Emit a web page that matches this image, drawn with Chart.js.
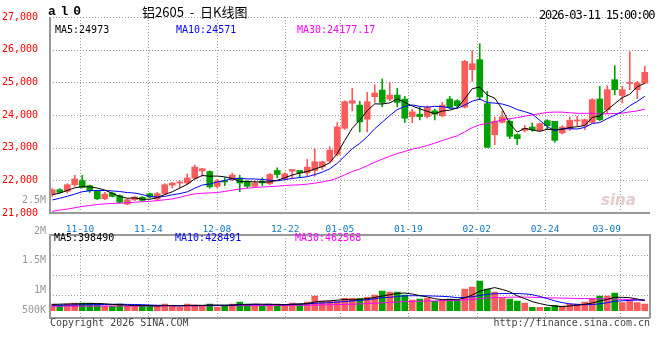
<!DOCTYPE html>
<html>
<head>
<meta charset="utf-8">
<script src="https://cdn.jsdelivr.net/npm/chart.js@4.4.1/dist/chart.umd.min.js"></script>
<style>
  body { margin: 0; background: #fff; width: 660px; height: 360px; overflow: hidden; position: relative; font-family: "DejaVu Sans Mono", monospace; }
  canvas { position: absolute; left: 0; }
  #kline { top: 0; }
  #volume { top: 226px; }
  .t { position: absolute; font-size: 10px; line-height: 10px; white-space: pre; }
  .r { text-align: right; }
</style>
</head>
<body>
<canvas id="kline" width="660" height="232" style="width:660px;height:232px"></canvas>
<canvas id="volume" width="660" height="100" style="width:660px;height:100px"></canvas>

<div class="t" style="left:48px;top:5px;font:bold 13px 'Liberation Mono';line-height:13px;letter-spacing:-1.5px">a l 0</div>
<div class="t" style="left:142px;top:5px;font-size:13px;line-height:14px;font-family:'Noto Sans CJK SC'">铝2605  -  日K线图</div>
<div class="t" style="left:539px;top:9px;font-size:12px;line-height:12px;letter-spacing:-1.15px">2026-03-11 15:00:00</div>

<div class="t" style="left:55px;top:25px;color:#000">MA5:24973</div>
<div class="t" style="left:176px;top:25px;color:#0000ff">MA10:24571</div>
<div class="t" style="left:297px;top:25px;color:#ff00ff">MA30:24177.17</div>

<div class="t" style="left:54px;top:233px;color:#000">MA5:398490</div>
<div class="t" style="left:175px;top:233px;color:#0000ff">MA10:428491</div>
<div class="t" style="left:295px;top:233px;color:#ff00ff">MA30:462568</div>

<div id="volLabels"></div>

<div class="t" style="left:50px;top:318px;color:#444">Copyright 2026 SINA.COM</div>
<div class="t r" style="right:10px;top:318px;color:#444">http://finance.sina.com.cn</div>
<div class="t" style="left:601px;top:191px;font:italic bold 15px 'DejaVu Sans';color:#e4cccc">sina</div>

<script>
// daily OHLC (80 sessions, 11-10 .. 03-11)
const open = [21590,21713,21662,21866,21990,21836,21662,21437,21611,21529,
  21274,21407,21478,21590,21427,21590,21856,21917,21917,22070,
  22290,22270,21816,21990,22020,22071,21949,21816,21973,21901,
  22302,22055,22281,22302,22230,22302,22414,22589,22794,23594,
  24364,24302,23871,24559,24764,24487,24610,24487,23953,24025,
  23953,24128,23974,24487,24436,24240,25387,25693,24347,23398,
  23775,23806,23398,23530,23632,23530,23826,23806,23449,23571,
  23816,23673,23775,24489,24163,25081,24601,24968,24775,24979];
const high = [21744,21744,21897,22152,22152,21856,21683,21631,21642,21560,
  21437,21509,21509,21611,21631,21897,21937,21999,22193,22470,
  22370,22290,22030,22082,22224,22153,21990,21990,22076,22209,
  22384,22230,22332,22302,22640,22968,22589,23030,23769,24436,
  24815,24415,24692,24928,25103,25000,24815,24569,24179,24251,
  24282,24179,24384,24569,24467,25673,25968,26183,24724,23939,
  24132,23857,23418,23683,23755,23755,23857,23806,23673,23939,
  23959,23877,24500,24877,24897,25510,24877,25938,25030,25489];
const low = [21509,21611,21611,21815,21764,21631,21407,21407,21489,21305,
  21254,21376,21356,21458,21386,21560,21764,21764,21887,22040,
  22125,21760,21770,21837,21990,21653,21765,21797,21840,21870,
  22076,22004,22055,22076,22127,22127,22332,22538,22743,23563,
  24128,23481,23481,24384,24251,24436,24251,23769,23769,23850,
  23902,23850,23953,24200,24230,24214,25030,24469,23010,23092,
  23755,23276,23092,23480,23500,23500,23550,23164,23418,23530,
  23673,23550,23755,23826,24040,24622,24367,24775,24499,24958];
const close = [21713,21631,21866,22040,21785,21683,21437,21580,21509,21325,
  21407,21489,21386,21489,21590,21866,21917,21948,22070,22405,
  22355,21800,21980,21949,22163,21918,21816,21918,21922,22178,
  22178,22199,22332,22230,22404,22568,22568,22927,23635,24405,
  24436,23789,24405,24672,24384,24610,24384,23902,24097,23953,
  24230,24025,24302,24230,24282,25642,25571,24550,23010,23806,
  23939,23347,23276,23592,23551,23734,23673,23225,23632,23836,
  23836,23857,24469,23857,24775,24775,24775,24999,24979,25306];

// moving average lines as they appear on the chart
const ma5 = [21560,21610,21690,21770,21807,21801,21762,21705,21599,21507,
  21452,21462,21423,21419,21472,21564,21650,21762,21878,22044,
  22148,22127,22131,22107,22056,21963,21963,21953,21947,21950,
  22002,22079,22162,22223,22269,22347,22420,22539,22820,23221,
  23594,23838,24134,24341,24337,24372,24491,24390,24275,24189,
  24113,24041,24121,24148,24214,24496,24805,24855,24611,24516,
  24175,23730,23476,23592,23541,23500,23565,23555,23563,23620,
  23640,23677,23926,23971,24159,24347,24530,24636,24861,24973];
const ma10 = [21400,21450,21510,21580,21650,21680,21690,21690,21675,21657,
  21626,21612,21564,21509,21490,21508,21556,21593,21649,21758,
  21856,21889,21947,21993,22050,22055,22045,22042,22027,22003,
  21983,22021,22057,22085,22110,22175,22250,22351,22522,22745,
  22970,23129,23337,23581,23779,23983,24165,24262,24308,24263,
  24243,24266,24256,24212,24202,24305,24423,24488,24380,24365,
  24336,24268,24165,24102,24028,23838,23648,23515,23578,23581,
  23570,23621,23741,23767,23889,23994,24104,24281,24416,24571];
const ma30 = [21050,21090,21120,21160,21200,21230,21260,21280,21290,21300,
  21315,21330,21345,21356,21380,21405,21430,21480,21540,21585,
  21605,21615,21625,21660,21700,21730,21760,21780,21795,21806,
  21822,21840,21856,21862,21883,21913,21950,21995,22066,22169,
  22270,22346,22447,22553,22646,22738,22820,22885,22953,23004,
  23065,23139,23217,23293,23363,23487,23613,23700,23737,23791,
  23850,23888,23919,23965,24003,24042,24079,24089,24088,24070,
  24050,24052,24054,24027,24040,24045,24058,24095,24124,24177];

// volume and its averages
const vol = [298000,253000,298000,342000,342000,342000,298000,209000,209000,298000,
  209000,209000,209000,209000,209000,298000,209000,151000,298000,253000,
  253000,298000,151000,253000,298000,387000,298000,253000,209000,298000,
  298000,253000,342000,298000,387000,653000,431000,431000,431000,551000,
  551000,551000,596000,698000,876000,831000,831000,698000,476000,520000,
  551000,418000,476000,520000,476000,964000,1053000,1320000,964000,831000,
  564000,520000,431000,342000,151000,151000,151000,240000,209000,298000,
  298000,387000,520000,653000,653000,787000,356000,431000,356000,298000];
const volMa5 = [280000,290000,300000,305000,307000,315000,324000,307000,280000,271000,
  245000,227000,227000,227000,209000,227000,227000,215000,233000,242000,
  233000,251000,251000,242000,251000,277000,277000,298000,289000,289000,
  271000,262000,280000,298000,316000,387000,422000,440000,467000,499000,
  479000,503000,536000,589000,654000,710000,766000,787000,742000,671000,
  615000,533000,488000,497000,488000,571000,698000,867000,955000,1026000,
  946000,840000,662000,538000,402000,319000,245000,207000,180000,210000,
  239000,286000,342000,431000,502000,600000,594000,576000,517000,446000];
const volMa10 = [240000,245000,250000,255000,260000,265000,270000,278000,285000,289000,
  280000,276000,267000,253000,240000,236000,227000,221000,230000,225000,
  230000,239000,233000,237000,246000,255000,264000,274000,265000,270000,
  274000,270000,289000,293000,302000,329000,342000,360000,382000,408000,
  433000,463000,488000,528000,577000,595000,635000,661000,666000,663000,
  663000,650000,638000,620000,580000,593000,615000,677000,726000,757000,
  759000,769000,764000,747000,714000,633000,543000,435000,359000,306000,
  279000,266000,275000,306000,356000,420000,440000,459000,474000,474000];
const volMa30 = [200000,200000,201000,202000,203000,204000,205000,206000,207000,208000,
  209000,210000,211000,212000,213000,214000,215000,216000,217000,218000,
  219000,220000,221000,222000,223000,224000,225000,226000,228000,230000,
  232000,233000,236000,238000,241000,250000,256000,263000,270000,280000,
  290000,302000,315000,330000,350000,368000,388000,405000,412000,420000,
  430000,435000,445000,455000,460000,480000,505000,540000,565000,583000,
  592000,600000,604000,605000,598000,583000,573000,568000,561000,553000,
  545000,540000,535000,530000,522000,515000,505000,495000,488000,480000];

// date axis
const dateIdx = [0,10,20,30,38,48,58,68,77];
const dateLabels = ['11-10','11-24','12-08','12-22','01-05','01-19','02-02','02-24','03-09'];
const volTickLabels = ['2.5M','2M','1.5M','1M','500K'];
const volGridLines = [700000,1590000,2480000];

const RED = '#fa5b5b', GREEN = '#00a000', GRID = '#a0a0a0';
const MONO = 'DejaVu Sans Mono';
const gridSpan = 600 / 7.6;   // date grid runs a touch wider than the candle slots

Chart.defaults.animation = false;
Chart.defaults.font.family = MONO;

const idx = close.map((_, i) => i);
const barColors = idx.map(i => close[i] >= open[i] ? RED : GREEN);
const pts = arr => idx.map(i => ({ x: i, y: arr[i] }));
const maLine = (data, color) => ({
  type: 'line', data: pts(data), borderColor: color, borderWidth: 1,
  pointRadius: 0, tension: 0, order: 0
});

function dateAxis(withLabels) {
  return {
    type: 'linear', position: 'bottom', min: 0, max: gridSpan,
    afterBuildTicks: s => { s.ticks = dateIdx.concat([s.max]).map(v => ({ value: v })); },
    afterFit: s => { s.height = withLabels ? 19 : 0; },
    ticks: {
      display: withLabels, autoSkip: false, maxRotation: 0, padding: 3,
      color: '#0c78c8', font: { family: MONO, size: 9.5 },
      callback: v => { const k = dateIdx.indexOf(v); return k < 0 ? '' : dateLabels[k]; }
    },
    grid: { display: false },
    border: { display: false }
  };
}

function dots(ctx, x0, y0, x1, y1) {
  // one-pixel dots every 3px, Sina style
  if (x0 === x1) { for (let y = y0; y < y1; y += 3) ctx.fillRect(x0, y, 1, 1); }
  else { for (let x = x0; x < x1; x += 3) ctx.fillRect(x, y0, 1, 1); }
}

// dotted grid (slid under the marks) + frame, placed from the chart's own scales
const panel = {
  id: 'panel',
  afterDraw(chart, args, opts) {
    const { ctx, chartArea: a, scales } = chart;
    const l = Math.round(a.left), r = Math.round(a.right);
    const t = Math.round(a.top), b = Math.round(a.bottom);
    ctx.save();
    ctx.globalCompositeOperation = 'destination-over';
    ctx.fillStyle = GRID;
    scales.xd.ticks.forEach(tk => {
      if (tk.value === 77) return;
      const x = Math.min(Math.round(scales.xd.getPixelForValue(tk.value)), r - 1);
      dots(ctx, x, t, x, b);
    });
    scales.y.ticks.forEach(tk => {
      const y = Math.round(scales.y.getPixelForValue(tk.value));
      dots(ctx, l, y, r, y);
    });
    ctx.globalCompositeOperation = 'source-over';
    ctx.fillStyle = '#999';
    ctx.fillRect(l - 1, t, 2, b - t + 1);
    ctx.fillRect(l - 1, b - 1, r - l + 1, 2);
    if (opts.closed) {
      ctx.fillRect(l - 1, t - 1, r - l + 1, 2);
      ctx.fillRect(r - 1, t - 1, 2, b - t + 1);
    }
    ctx.restore();
  }
};

new Chart(document.getElementById('kline'), {
  type: 'bar',
  data: {
    datasets: [
      maLine(ma5, '#000000'),
      maLine(ma10, '#0000ff'),
      maLine(ma30, '#ff00ff'),
      { data: idx.map(i => ({ x: i, y: [open[i], close[i]] })), backgroundColor: barColors,
        barThickness: 6, minBarLength: 1, grouped: false, order: 1 },
      { data: idx.map(i => ({ x: i, y: [low[i], high[i]] })), backgroundColor: barColors,
        barThickness: 1, grouped: false, order: 2 }
    ]
  },
  options: {
    responsive: false,
    layout: { padding: { top: 17, right: 10, left: 0, bottom: 0 } },
    plugins: { legend: { display: false }, tooltip: { enabled: false }, panel: { closed: false } },
    scales: {
      x: { type: 'linear', min: -0.3, max: 79.7, offset: false, display: false },
      xd: dateAxis(true),
      y: {
        min: 21000, max: 27000,
        afterFit: s => { s.width = 50; },
        ticks: { stepSize: 1000, color: '#ff0000', padding: 4, font: { family: MONO, size: 10 } },
        grid: { display: false },
        border: { display: false }
      }
    }
  },
  plugins: [panel]
});

new Chart(document.getElementById('volume'), {
  type: 'bar',
  data: {
    datasets: [
      maLine(volMa5, '#000000'),
      maLine(volMa10, '#0000ff'),
      maLine(volMa30, '#ff00ff'),
      { data: pts(vol), backgroundColor: barColors, barThickness: 6, grouped: false, order: 1 }
    ]
  },
  options: {
    responsive: false,
    layout: { padding: { top: 8.7, right: 10, left: 0, bottom: 8 } },
    plugins: { legend: { display: false }, tooltip: { enabled: false }, panel: { closed: true } },
    scales: {
      x: { type: 'linear', min: -0.3, max: 79.7, offset: false, display: false },
      xd: dateAxis(false),
      y: {
        min: -324000, max: 3378000,
        afterBuildTicks: s => { s.ticks = volGridLines.map(v => ({ value: v })); },
        afterFit: s => { s.width = 50; },
        ticks: { display: false },
        grid: { display: false },
        border: { display: false }
      }
    }
  },
  plugins: [panel]
});

// volume axis captions sit at fixed spots on the original, not on the grid
const volLabelTops = [195, 226, 255, 285, 305];
document.getElementById('volLabels').innerHTML = volTickLabels.map((s, i) =>
  `<div class="t r" style="left:0;width:46px;top:${volLabelTops[i]}px;color:#999">${s}</div>`
).join('');
</script>
</body>
</html>
